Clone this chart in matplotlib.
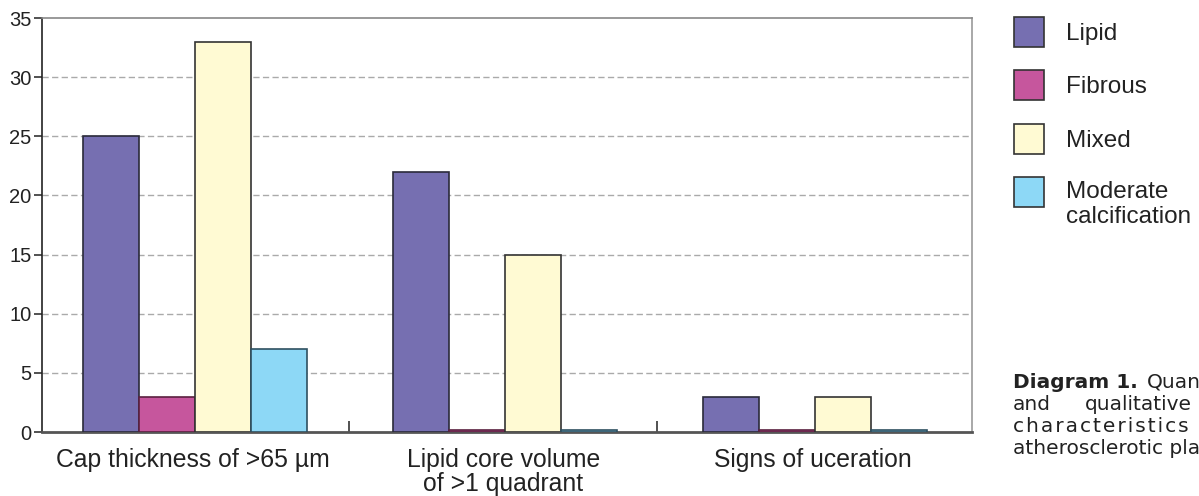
import numpy as np
import matplotlib.pyplot as plt
from matplotlib.patches import Rectangle

plt.rcParams['font.family'] = ['Liberation Sans', 'DejaVu Sans']

categories = ["Cap thickness of >65 µm", "Lipid core volume\nof >1 quadrant", "Signs of uceration"]
series = ["Lipid", "Fibrous", "Mixed", "Moderate\ncalcification"]
lipid = [25, 22, 3]
fibrous = [3, 0.2, 0.2]
mixed = [33, 15, 3]
calcification = [7, 0.2, 0.2]
values = [lipid, fibrous, mixed, calcification]
colors = ["#766fb1", "#c6569d", "#fffad3", "#8dd8f6"]
edges = ["#2a2a3a", "#5a2040", "#333333", "#2f5060"]

W, H = 1199, 496
fig = plt.figure(figsize=(W / 100, H / 100), dpi=100)
ax = fig.add_axes([42 / W, 1 - 432 / H, 930 / W, 414 / H])

x = np.arange(len(categories))
w = 0.181
for i, (vals, c, ec) in enumerate(zip(values, colors, edges)):
    ax.bar(x - 0.006 + (i - 1.5) * w, vals, w, color=c, edgecolor=ec, linewidth=1.2, zorder=3)

ax.set_xlim(-0.5, 2.5)
ax.set_ylim(0, 35)
ax.set_yticks(range(0, 36, 5))
for y in range(5, 35, 5):
    ax.axhline(y, color="#aaaaaa", linestyle=(0, (4.5, 2.4)), linewidth=1, zorder=1)

ax.set_xticks(x - 0.012)
ax.set_xticklabels(categories, fontsize=17.8, color="#222222", va="top", linespacing=1.0)
ax.tick_params(axis="x", length=0, pad=11.5)
ax.set_xticks([0.49, 1.483], minor=True)
ax.tick_params(axis="x", which="minor", direction="in", length=8, width=1.2, color="#333333")
ax.tick_params(axis="y", direction="out", length=6, width=1.2, labelsize=14.5, colors="#333333",
               labelcolor="#222222", pad=1.5)

ax.spines["left"].set_color("#222222")
ax.spines["left"].set_linewidth(1.2)
ax.spines["bottom"].set_color("#555555")
ax.spines["bottom"].set_linewidth(2)
ax.spines["top"].set_color("#888888")
ax.spines["right"].set_color("#999999")
ax.spines["top"].set_linewidth(1.2)
ax.spines["right"].set_linewidth(1.2)

# legend: squares with labels to the right
key_top = [17, 70, 124, 177]
for top, label, c in zip(key_top, series, colors):
    fig.add_artist(Rectangle((1014 / W, 1 - (top + 30) / H), 30 / W, 30 / H,
                             facecolor=c, edgecolor="#333333", linewidth=1.2,
                             transform=fig.transFigure))
    if "\n" in label:
        fig.text(1066 / W, 1 - (top + 4) / H, label, fontsize=17.5, color="#222222",
                 va="top", linespacing=1.2)
    else:
        fig.text(1066 / W, 1 - (top + 17) / H, label, fontsize=17.5, color="#222222",
                 va="center")

# caption (justified column, spread with hair spaces)
cap = dict(fontsize=14.5, color="#222222", va="center", family="DejaVu Sans")
fig.text(1013 / W, 1 - 382 / H, "Diagram 1.", fontweight="bold", **cap)
fig.text(1147 / W, 1 - 382 / H, "Quantitative", **cap)
fig.text(1013 / W, 1 - 404 / H, "and", **cap)
fig.text(1085 / W, 1 - 404 / H, "qualitative", **cap)
fig.text(1013 / W, 1 - 426 / H, "\u200a".join("characteristics") + "   of", **cap)
fig.text(1013 / W, 1 - 448 / H, "atherosclerotic plaques", **cap)

fig.savefig("out.png", dpi=100)
